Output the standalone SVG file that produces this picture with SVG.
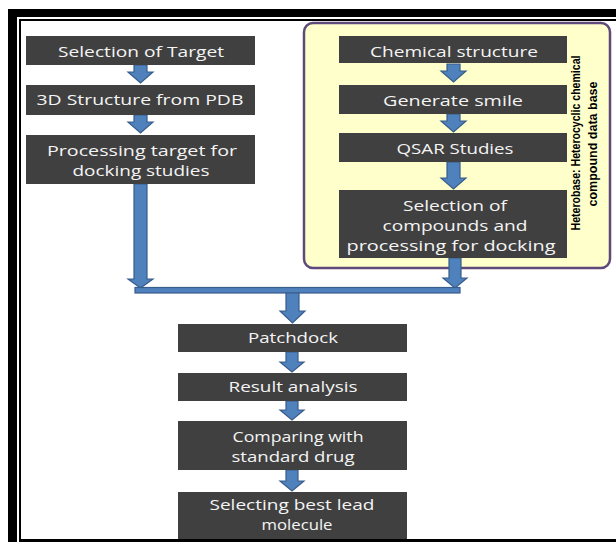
<svg xmlns="http://www.w3.org/2000/svg" width="616" height="542" viewBox="0 0 616 542">
<style>
.box{fill:#404040}
.t{font-family:"Open Sans","Liberation Sans",sans-serif;font-size:15px;fill:#f4f4f4;text-anchor:middle}
.arr{fill:#4f81bd;stroke:#385d8a;stroke-width:1.2}
.vt{font-family:"Liberation Sans",Arial,sans-serif;font-size:12px;font-weight:bold;fill:#000;text-anchor:middle}
</style>
<rect x="0" y="0" width="616" height="542" fill="#fff"/>
<g id="frame">
<rect x="8" y="9" width="608" height="8" fill="#000"/>
<rect x="8" y="9" width="9" height="533" fill="#000"/>
<rect x="19" y="19" width="597" height="2" fill="#000"/>
<rect x="19" y="19" width="2" height="522" fill="#000"/>
<rect x="19" y="539" width="597" height="3" fill="#000"/>
</g>
<g id="database">
<rect x="304" y="23" width="306" height="245" rx="9" fill="#ffffcc" stroke="#5f497a" stroke-width="2.5"/>
<text class="vt" transform="translate(580,143) rotate(-90)" textLength="175" lengthAdjust="spacingAndGlyphs">Heterobase: Heterocyclic chemical</text>
<text class="vt" transform="translate(597,144) rotate(-90)" textLength="125" lengthAdjust="spacingAndGlyphs">compound data base</text>
</g>
<g id="connectors">
<path class="arr" d="M134,65 H147 V72 H153 L140.5,83 L128,72 H134 Z"/>
<path class="arr" d="M134,115 H147 V122 H153 L140.5,133 L128,122 H134 Z"/>
<path class="arr" d="M134,184 H147 V279 H153 L140.5,288 L128,279 H134 Z"/>
<path class="arr" d="M447,64 H460 V71 H466 L453.5,82 L441,71 H447 Z"/>
<path class="arr" d="M447,114 H460 V121 H466 L453.5,132 L441,121 H447 Z"/>
<path class="arr" d="M447,162 H460 V178 H466 L453.5,189 L441,178 H447 Z"/>
<path class="arr" d="M449,258 H461 V278 H467 L455,288 L443,278 H449 Z"/>
<rect class="arr" x="135" y="287.5" width="325" height="5.5"/>
<path class="arr" d="M286,293 H299 V311 H305 L292.5,323 L280,311 H286 Z"/>
<path class="arr" d="M286,352 H298 V362 H304 L292,372 L280,362 H286 Z"/>
<path class="arr" d="M286,401 H298 V410 H304 L292,420 L280,410 H286 Z"/>
<path class="arr" d="M286,470 H298 V481 H304 L292,491 L280,481 H286 Z"/>
</g>
<g id="n1"><rect class="box" x="26" y="36" width="229" height="29"/><text class="t" x="141" y="57" textLength="166" lengthAdjust="spacingAndGlyphs">Selection of Target</text></g>
<g id="n2"><rect class="box" x="26" y="85" width="229" height="30"/><text class="t" x="140" y="105" textLength="207" lengthAdjust="spacingAndGlyphs">3D Structure from PDB</text></g>
<g id="n3"><rect class="box" x="26" y="135" width="229" height="49"/><text class="t" x="142" y="156" textLength="190" lengthAdjust="spacingAndGlyphs">Processing target  for</text><text class="t" x="141" y="176" textLength="137" lengthAdjust="spacingAndGlyphs">docking studies</text></g>
<g id="n4"><rect class="box" x="339" y="36" width="228" height="27"/><text class="t" x="454" y="57" textLength="168" lengthAdjust="spacingAndGlyphs">Chemical structure</text></g>
<g id="n5"><rect class="box" x="339" y="85" width="228" height="29"/><text class="t" x="453" y="106" textLength="140" lengthAdjust="spacingAndGlyphs">Generate smile</text></g>
<g id="n6"><rect class="box" x="339" y="133" width="228" height="29"/><text class="t" x="455" y="154" textLength="117" lengthAdjust="spacingAndGlyphs">QSAR Studies</text></g>
<g id="n7"><rect class="box" x="339" y="190" width="228" height="68"/><text class="t" x="455" y="211" textLength="104" lengthAdjust="spacingAndGlyphs">Selection of</text><text class="t" x="455" y="231" textLength="145" lengthAdjust="spacingAndGlyphs">compounds and</text><text class="t" x="451" y="251" textLength="209" lengthAdjust="spacingAndGlyphs">processing for docking</text></g>
<g id="n8"><rect class="box" x="178" y="324" width="229" height="28"/><text class="t" x="293" y="343" textLength="90" lengthAdjust="spacingAndGlyphs">Patchdock</text></g>
<g id="n9"><rect class="box" x="178" y="373" width="229" height="28"/><text class="t" x="293" y="392" textLength="129" lengthAdjust="spacingAndGlyphs">Result analysis</text></g>
<g id="n10"><rect class="box" x="178" y="421" width="229" height="49"/><text class="t" x="298" y="442" textLength="131" lengthAdjust="spacingAndGlyphs">Comparing with</text><text class="t" x="293" y="462" textLength="123" lengthAdjust="spacingAndGlyphs">standard drug</text></g>
<g id="n11"><rect class="box" x="178" y="492" width="229" height="47"/><text class="t" x="292" y="510" textLength="165" lengthAdjust="spacingAndGlyphs">Selecting best lead</text><text class="t" x="297" y="530" textLength="71" lengthAdjust="spacingAndGlyphs">molecule</text></g>
</svg>
